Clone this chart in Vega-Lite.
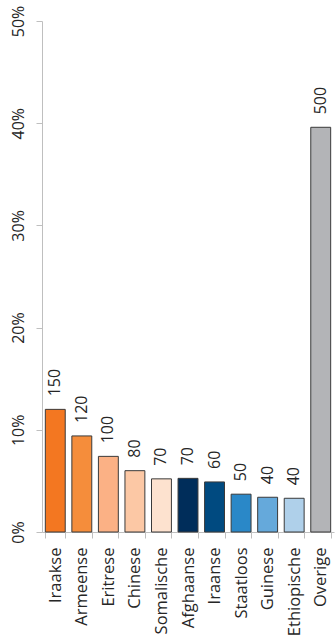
{
  "$schema": "https://vega.github.io/schema/vega-lite/v6.json",
  "autosize": {"type": "none"},
  "width": 292,
  "height": 511,
  "padding": {"left": 42, "top": 21, "right": 2, "bottom": 107},
  "background": "white",
  "config": {
    "view": {"stroke": null},
    "font": "Open Sans"
  },
  "data": {
    "values": [
      {"land": "Iraakse", "aandeel": 0.120, "aantal": 150, "kleur": "#F37721"},
      {"land": "Armeense", "aandeel": 0.094, "aantal": 120, "kleur": "#F58D3B"},
      {"land": "Eritrese", "aandeel": 0.074, "aantal": 100, "kleur": "#FBB185"},
      {"land": "Chinese", "aandeel": 0.060, "aantal": 80, "kleur": "#FCC8A5"},
      {"land": "Somalische", "aandeel": 0.052, "aantal": 70, "kleur": "#FDE2CF"},
      {"land": "Afghaanse", "aandeel": 0.0525, "aantal": 70, "kleur": "#002D5A"},
      {"land": "Iraanse", "aandeel": 0.049, "aantal": 60, "kleur": "#004A80"},
      {"land": "Staatloos", "aandeel": 0.037, "aantal": 50, "kleur": "#2A88C8"},
      {"land": "Guinese", "aandeel": 0.034, "aantal": 40, "kleur": "#65A9DB"},
      {"land": "Ethiopische", "aandeel": 0.033, "aantal": 40, "kleur": "#AFD0EA"},
      {"land": "Overige", "aandeel": 0.396, "aantal": 500, "kleur": "#B3B4B7"}
    ]
  },
  "encoding": {
    "x": {
      "field": "land",
      "type": "nominal",
      "sort": null,
      "scale": {"paddingInner": 0.25, "paddingOuter": 0.125},
      "axis": {
        "title": null,
        "labelAngle": -90,
        "labelFontSize": 16.5,
        "labelColor": "#262626",
        "labelPadding": 9,
        "tickBand": "extent",
        "tickSize": 6,
        "tickColor": "#BFBFBF",
        "domainColor": "#BFBFBF",
        "labelAlign": "right",
        "labelBaseline": "middle"
      }
    },
    "y": {
      "field": "aandeel",
      "type": "quantitative",
      "scale": {"domain": [0, 0.5], "nice": false},
      "axis": {
        "title": null,
        "values": [0, 0.1, 0.2, 0.3, 0.4, 0.5],
        "format": ".0%",
        "grid": false,
        "labelAngle": -90,
        "labelFontSize": 16,
        "labelColor": "#262626",
        "labelPadding": 10,
        "tickSize": 6,
        "tickColor": "#BFBFBF",
        "domainColor": "#BFBFBF",
        "labelAlign": "center",
        "labelBaseline": "bottom"
      }
    }
  },
  "layer": [
    {
      "mark": {"type": "bar", "stroke": "#3A3A3A", "strokeWidth": 1},
      "encoding": {
        "color": {"field": "kleur", "type": "nominal", "scale": null, "legend": null}
      }
    },
    {
      "mark": {"type": "text", "angle": -90, "align": "left", "baseline": "middle", "dx": 13, "fontSize": 16, "color": "#262626"},
      "encoding": {
        "text": {"field": "aantal", "type": "quantitative"}
      }
    }
  ]
}
